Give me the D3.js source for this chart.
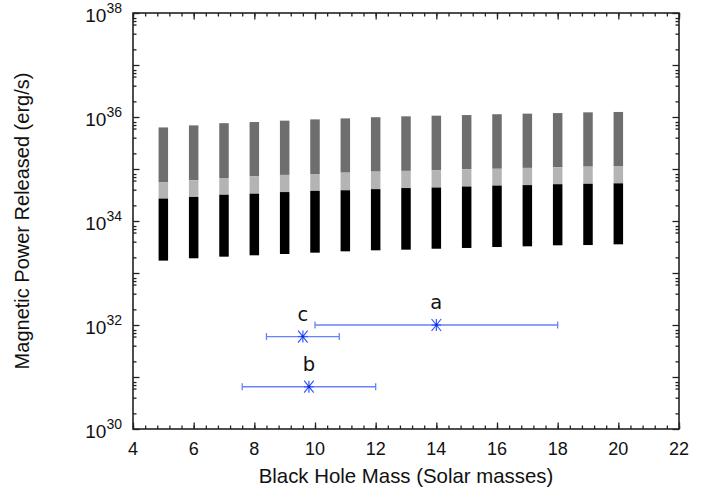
<!DOCTYPE html>
<html lang="en"><head><meta http-equiv="Content-Type" content="text/html; charset=UTF-8">
    <script src="https://d3js.org/d3.v7.min.js"></script>
    <style>
        body { margin: 0; background: #fff; }
        #chart { position: absolute; left: 0; top: 0; }
    </style>
</head>
<body>
<div id="chart"></div>
<script>

    // black hole masses of the model bars (solar masses)
    const masses = [5, 6, 7, 8, 9, 10, 11, 12, 13, 14, 15, 16, 17, 18, 19, 20];
    // band edges of each bar, erg/s
    const powerTop = [6.3e35, 6.9e35, 7.6e35, 8.0e35, 8.5e35, 9.0e35, 9.4e35, 9.9e35,
                      1.03e36, 1.06e36, 1.09e36, 1.13e36, 1.16e36, 1.19e36, 1.23e36, 1.25e36];
    const powerMid = [5.6e34, 6.1e34, 6.7e34, 7.2e34, 7.7e34, 8.0e34, 8.5e34, 8.9e34,
                      9.2e34, 9.4e34, 9.9e34, 1.01e35, 1.05e35, 1.08e35, 1.11e35, 1.14e35];
    const powerLow = [2.7e34, 2.9e34, 3.2e34, 3.35e34, 3.6e34, 3.8e34, 3.9e34, 4.1e34,
                      4.3e34, 4.4e34, 4.6e34, 4.8e34, 4.9e34, 5.1e34, 5.2e34, 5.3e34];
    const powerMin = [1.73e33, 1.92e33, 2.06e33, 2.19e33, 2.32e33, 2.46e33, 2.61e33, 2.73e33,
                      2.81e33, 2.93e33, 3.03e33, 3.16e33, 3.26e33, 3.41e33, 3.45e33, 3.56e33];

    // observed sources with mass error bars
    const sourceNames = ["a", "b", "c"];
    const sourceMass = [14, 9.8, 9.6];
    const sourceMassLow = [10, 7.6, 8.4];
    const sourceMassHigh = [18, 12, 10.8];
    const sourcePower = [1e32, 6.5e30, 6e31];

    // axis ticks
    const xTicks = [4, 6, 8, 10, 12, 14, 16, 18, 20, 22];
    const yExponents = [30, 31, 32, 33, 34, 35, 36, 37, 38];
    const yLabelExponents = [30, 32, 34, 36, 38];
    const yMinorMultipliers = [2, 4, 6, 7, 8];

    function drawChart() {
        const width = 713, height = 491;
        const left = 133, right = 679, top = 13, bottom = 429;

        const x = d3.scaleLinear().domain([4, 22]).range([left, right]);
        const y = d3.scaleLog().domain([1e30, 1e38]).range([bottom, top]);

        const svg = d3.select("#chart")
            .append("svg")
            .attr("width", width)
            .attr("height", height)
            .attr("viewBox", [0, 0, width, height]);

        // bars: three stacked bands per mass
        const barW = 9.5;
        const bands = [
            {lo: powerMid, hi: powerTop, color: "#6e6e6e"},
            {lo: powerLow, hi: powerMid, color: "#b4b4b4"},
            {lo: powerMin, hi: powerLow, color: "#000000"}
        ];
        bands.forEach(b => {
            svg.append("g").selectAll("rect")
                .data(masses)
                .join("rect")
                .attr("x", (d) => x(d) - barW / 2)
                .attr("width", barW)
                .attr("y", (d, i) => y(b.hi[i]))
                .attr("height", (d, i) => y(b.lo[i]) - y(b.hi[i]))
                .attr("fill", b.color);
        });

        // ticks
        const minorX = d3.range(0, 46).map(i => 4 + i * 0.4);
        const minorY = [];
        yExponents.slice(0, -1).forEach(e => yMinorMultipliers.forEach(m => minorY.push(m * Math.pow(10, e))));
        const majorY = yExponents.map(e => Math.pow(10, e));

        const axisStyle = g => {
            g.select(".domain").remove();
            g.selectAll(".tick line").attr("stroke", "#222").attr("stroke-width", 1.3);
            g.selectAll(".tick text").remove();
        };

        svg.append("g").attr("transform", `translate(0,${bottom})`)
            .call(d3.axisBottom(x).tickValues(minorX).tickSize(-3.5)).call(axisStyle);
        svg.append("g").attr("transform", `translate(0,${bottom})`)
            .call(d3.axisBottom(x).tickValues(xTicks).tickSize(-6.5)).call(axisStyle);
        svg.append("g").attr("transform", `translate(0,${top})`)
            .call(d3.axisTop(x).tickValues(minorX).tickSize(-3.5)).call(axisStyle);
        svg.append("g").attr("transform", `translate(0,${top})`)
            .call(d3.axisTop(x).tickValues(xTicks).tickSize(-6.5)).call(axisStyle);

        svg.append("g").attr("transform", `translate(${left},0)`)
            .call(d3.axisLeft(y).tickValues(minorY).tickSize(-3.5)).call(axisStyle);
        svg.append("g").attr("transform", `translate(${left},0)`)
            .call(d3.axisLeft(y).tickValues(majorY).tickSize(-6.5)).call(axisStyle);
        svg.append("g").attr("transform", `translate(${right},0)`)
            .call(d3.axisRight(y).tickValues(minorY).tickSize(-3.5)).call(axisStyle);
        svg.append("g").attr("transform", `translate(${right},0)`)
            .call(d3.axisRight(y).tickValues(majorY).tickSize(-6.5)).call(axisStyle);

        // frame
        svg.append("rect")
            .attr("x", left).attr("y", top)
            .attr("width", right - left).attr("height", bottom - top)
            .attr("fill", "none").attr("stroke", "#222").attr("stroke-width", 1.6);

        // tick labels
        const font = "'Liberation Sans', Arial, Helvetica, sans-serif";
        svg.append("g").selectAll("text")
            .data(xTicks)
            .join("text")
            .attr("x", d => x(d))
            .attr("y", bottom + 26)
            .attr("text-anchor", "middle")
            .attr("font-family", font)
            .attr("font-size", 18)
            .attr("fill", "#111")
            .text(d => d);

        const yl = svg.append("g").selectAll("text")
            .data(yLabelExponents)
            .join("text")
            .attr("x", left - 11)
            .attr("y", d => y(Math.pow(10, d)) + 9)
            .attr("text-anchor", "end")
            .attr("font-family", font)
            .attr("fill", "#111");
        yl.append("tspan").attr("font-size", 19).text("10");
        yl.append("tspan").attr("font-size", 14).attr("dy", -9.5).text(d => d);

        // axis titles
        svg.append("text")
            .attr("x", (left + right) / 2)
            .attr("y", 483)
            .attr("text-anchor", "middle")
            .attr("font-family", font)
            .attr("font-size", 20.4)
            .attr("fill", "#111")
            .text("Black Hole Mass (Solar masses)");

        svg.append("text")
            .attr("transform", `translate(29,${(top + bottom) / 2}) rotate(-90)`)
            .attr("text-anchor", "middle")
            .attr("font-family", font)
            .attr("font-size", 20)
            .attr("fill", "#111")
            .text("Magnetic Power Released (erg/s)");

        // sources: error bars, star markers and names
        const barColor = "#6682ff", starColor = "#3355ff";
        const idx = d3.range(sourceNames.length);
        const src = svg.append("g").selectAll("g")
            .data(idx)
            .join("g");

        src.append("line")
            .attr("x1", i => x(sourceMassLow[i])).attr("x2", i => x(sourceMassHigh[i]))
            .attr("y1", i => y(sourcePower[i])).attr("y2", i => y(sourcePower[i]))
            .attr("stroke", barColor).attr("stroke-width", 1.3);
        [sourceMassLow, sourceMassHigh].forEach(arr => {
            src.append("line")
                .attr("x1", i => x(arr[i])).attr("x2", i => x(arr[i]))
                .attr("y1", i => y(sourcePower[i]) - 3.5).attr("y2", i => y(sourcePower[i]) + 3.5)
                .attr("stroke", barColor).attr("stroke-width", 1.3);
        });

        const r = 6;
        const arms = [[-r, -r, r, r], [-r, r, r, -r], [0, -r, 0, r], [-r, 0, r, 0]];
        arms.forEach(a => {
            src.append("line")
                .attr("x1", i => x(sourceMass[i]) + a[0] * 0.8)
                .attr("y1", i => y(sourcePower[i]) + a[1])
                .attr("x2", i => x(sourceMass[i]) + a[2] * 0.8)
                .attr("y2", i => y(sourcePower[i]) + a[3])
                .attr("stroke", starColor).attr("stroke-width", 1.2);
        });
        src.append("circle")
            .attr("cx", i => x(sourceMass[i])).attr("cy", i => y(sourcePower[i]))
            .attr("r", 1.4).attr("fill", "#1030c0");

        src.append("text")
            .attr("x", i => x(sourceMass[i]))
            .attr("y", i => y(sourcePower[i]) - 16)
            .attr("text-anchor", "middle")
            .attr("font-family", "'DejaVu Sans', sans-serif")
            .attr("font-size", 19.5)
            .attr("fill", "#111")
            .text(i => sourceNames[i]);
    }

    window.onload = drawChart;
</script>
</body>
</html>
